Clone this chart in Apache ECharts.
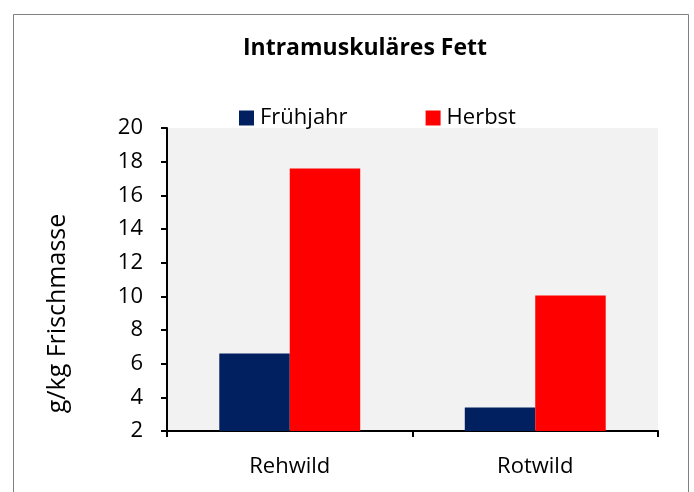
<!DOCTYPE html>
<html>
<head>
<meta charset="utf-8">
<script src="https://cdn.jsdelivr.net/npm/echarts@6/dist/echarts.min.js"></script>
<style>
  html, body { margin: 0; padding: 0; background: #fff; }
  #chart { width: 694px; height: 492px; }
</style>
</head>
<body>
<div id="chart"></div>
<script>
// Intramuskuläres Fett – Balkendiagramm
const categories = ["Rehwild", "Rotwild"];
const fruehjahr = [6.6, 3.4];
const herbst = [17.6, 10.05];
const seriesNames = ["Frühjahr", "Herbst"];

const font = "Open Sans";
const myChart = echarts.init(document.getElementById("chart"));

const option = {
  animation: false,
  backgroundColor: "#fff",
  textStyle: { fontFamily: font, color: "#000" },
  title: {
    text: "Intramuskuläres Fett",
    left: 360,
    textAlign: "center",
    top: 32,
    textStyle: { fontFamily: font, fontSize: 23, fontWeight: "bold", color: "#000" },
  },
  legend: {
    data: seriesNames,
    left: 234,
    top: 102,
    itemWidth: 15,
    itemHeight: 15,
    itemGap: 78,
    icon: "rect",
    textStyle: { fontFamily: font, fontSize: 22, color: "#000", padding: [0, 0, 0, 1] },
  },
  graphic: [
    {
      type: "rect",
      shape: { x: 13.5, y: 14.5, width: 675, height: 490 },
      style: { fill: "none", stroke: "#7f7f7f", lineWidth: 1 },
      z: -1,
    },
  ],
  grid: {
    left: 167,
    right: 36,
    top: 128,
    bottom: 61,
    show: true,
    backgroundColor: "#f2f2f2",
    borderWidth: 0,
  },
  xAxis: {
    type: "category",
    data: categories,
    axisLine: { lineStyle: { color: "#000", width: 2 } },
    axisTick: { show: true, length: 6, lineStyle: { color: "#000", width: 2 } },
    axisLabel: { fontFamily: font, fontSize: 22, color: "#000", margin: 25 },
  },
  yAxis: {
    type: "value",
    min: 2,
    max: 20,
    interval: 2,
    name: "g/kg Frischmasse",
    nameLocation: "middle",
    nameGap: 97,
    nameTextStyle: { fontFamily: font, fontSize: 25, color: "#000", padding: [0, 68, 0, 0] },
    axisLine: { show: true, lineStyle: { color: "#000", width: 2 } },
    axisTick: { show: true, length: 6, lineStyle: { color: "#000", width: 2 } },
    axisLabel: { fontFamily: font, fontSize: 22, color: "#000", margin: 24 },
    splitLine: { show: false },
  },
  series: [
    {
      name: seriesNames[0],
      type: "bar",
      data: fruehjahr,
      barWidth: "28.7%",
      barGap: "0%",
      itemStyle: { color: "#002060" },
    },
    {
      name: seriesNames[1],
      type: "bar",
      data: herbst,
      barWidth: "28.7%",
      itemStyle: { color: "#ff0000" },
    },
  ],
};
option && myChart.setOption(option);
</script>
</body>
</html>
